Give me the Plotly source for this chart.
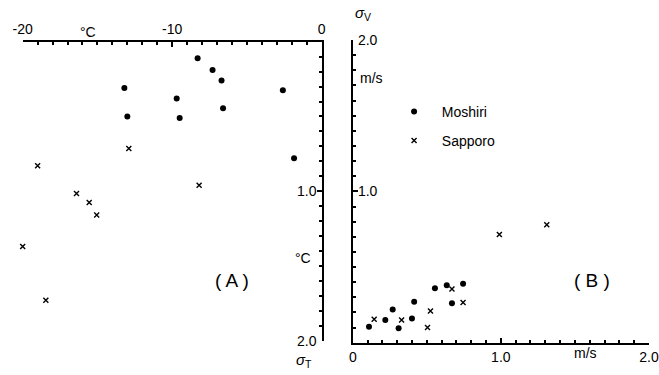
import plotly.graph_objects as go

# ---- Panel A: air temperature (°C) vs sigma_T (°C) ----
a_mosh_t = [-8.3, -7.3, -6.7, -13.2, -2.6, -9.7, -6.6, -13.0, -9.5, -1.85]
a_mosh_s = [0.11, 0.19, 0.26, 0.31, 0.325, 0.38, 0.445, 0.50, 0.51, 0.78]
a_sapp_t = [-12.9, -19.0, -8.2, -16.4, -15.55, -15.05, -20.0, -18.45]
a_sapp_s = [0.715, 0.83, 0.96, 1.015, 1.075, 1.16, 1.37, 1.73]

# ---- Panel B: sigma_u (m/s) vs sigma_v (m/s) ----
b_mosh_u = [0.11, 0.22, 0.27, 0.31, 0.40, 0.415, 0.555, 0.635, 0.67, 0.745]
b_mosh_v = [0.105, 0.15, 0.22, 0.095, 0.16, 0.27, 0.36, 0.38, 0.26, 0.39]
b_sapp_u = [0.145, 0.33, 0.505, 0.525, 0.67, 0.745, 0.99, 1.31]
b_sapp_v = [0.155, 0.15, 0.10, 0.21, 0.355, 0.265, 0.715, 0.78]

a_xticks = [-20, -10, -0.001]
a_xticktext = ["-20", "-10", "0"]
a_yticks = [1.0, 2.0]
a_yticktext = ["1.0", "2.0"]
b_xticks = [0.001, 1.0, 2.0]
b_xticktext = ["0", "1.0", "2.0"]
b_yticks = [1.0, 2.0]
b_yticktext = ["1.0", "2.0"]

FONT = "Liberation Sans"
dot = dict(symbol="circle", size=6, color="black")
cross = dict(symbol="x-thin", size=5, color="black", line=dict(width=1.4, color="black"))

fig = go.Figure()
fig.add_trace(go.Scatter(x=a_mosh_t, y=a_mosh_s, mode="markers", marker=dot,
                         xaxis="x", yaxis="y", showlegend=False, cliponaxis=False))
fig.add_trace(go.Scatter(x=a_sapp_t, y=a_sapp_s, mode="markers", marker=cross,
                         xaxis="x", yaxis="y", showlegend=False, cliponaxis=False))
fig.add_trace(go.Scatter(x=b_mosh_u, y=b_mosh_v, mode="markers", marker=dot,
                         name="\u00a0\u00a0Moshiri",
                         xaxis="x2", yaxis="y2", legend="legend", cliponaxis=False))
fig.add_trace(go.Scatter(x=b_sapp_u, y=b_sapp_v, mode="markers", marker=cross,
                         name="\u00a0\u00a0Sapporo",
                         xaxis="x2", yaxis="y2", legend="legend2", cliponaxis=False))

axis_common = dict(showline=True, linecolor="black", linewidth=2, showgrid=False,
                   zeroline=False, ticks="inside", ticklen=5, tickwidth=1.5,
                   tickcolor="black", tickfont=dict(family=FONT, size=14, color="black"),
                   tickmode="array", automargin=False, ticklabeloverflow="allow")

fig.update_layout(
    width=659, height=375,
    margin=dict(l=0, r=0, t=0, b=0, autoexpand=False),
    paper_bgcolor="white", plot_bgcolor="white",
    font=dict(family=FONT, size=14, color="black"),
    xaxis=dict(axis_common, domain=[0.0344, 0.4882], range=[-20, 0], side="top",
               anchor="y", tickvals=a_xticks, ticktext=a_xticktext,
               minor=dict(dtick=1, tick0=0, ticks="inside", ticklen=3, tickcolor="black")),
    yaxis=dict(axis_common, domain=[0.0915, 0.8888], range=[2, 0], side="right",
               anchor="x", tickvals=a_yticks, ticktext=a_yticktext, ticklabelposition="inside",
               minor=dict(dtick=0.1, tick0=0, ticks="inside", ticklen=3, tickcolor="black")),
    xaxis2=dict(axis_common, domain=[0.5352, 0.9848], range=[0, 2], side="bottom",
                anchor="y2", tickvals=b_xticks, ticktext=b_xticktext,
                minor=dict(dtick=0.1, tick0=0, ticks="inside", ticklen=3, tickcolor="black")),
    yaxis2=dict(axis_common, domain=[0.0861, 0.8933], range=[0, 2], side="left",
                anchor="x2", tickvals=b_yticks, ticktext=b_yticktext, ticklabelposition="inside",
                minor=dict(dtick=0.1, tick0=0, ticks="inside", ticklen=3, tickcolor="black")),
    legend=dict(x=0.598, y=1 - 112 / 375, xanchor="left", yanchor="middle",
                bgcolor="rgba(0,0,0,0)", font=dict(family=FONT, size=14)),
    legend2=dict(x=0.598, y=1 - 141 / 375, xanchor="left", yanchor="middle",
                 bgcolor="rgba(0,0,0,0)", font=dict(family=FONT, size=14)),
)

ann = [
    ("°C", 88, 32, 14),
    ("°C", 303, 258, 14),
    ("( A )", 232, 280, 19),
    ("<i>σ</i><sub>T</sub>", 304, 360, 15),
    ("<i>σ</i><sub>V</sub>", 363, 14, 15),
    ("m/s", 371, 78, 14),
    ("m/s", 585, 353, 14),
    ("( B )", 592, 280, 19),
]
for txt, px, py, sz in ann:
    fig.add_annotation(text=txt, x=px / 659, y=1 - py / 375, xref="paper", yref="paper",
                       showarrow=False, xanchor="center", yanchor="middle",
                       font=dict(family=FONT, size=sz, color="black"))

fig.write_html("out.html", config={"displayModeBar": False},
               post_script="document.body.style.margin='0';")
